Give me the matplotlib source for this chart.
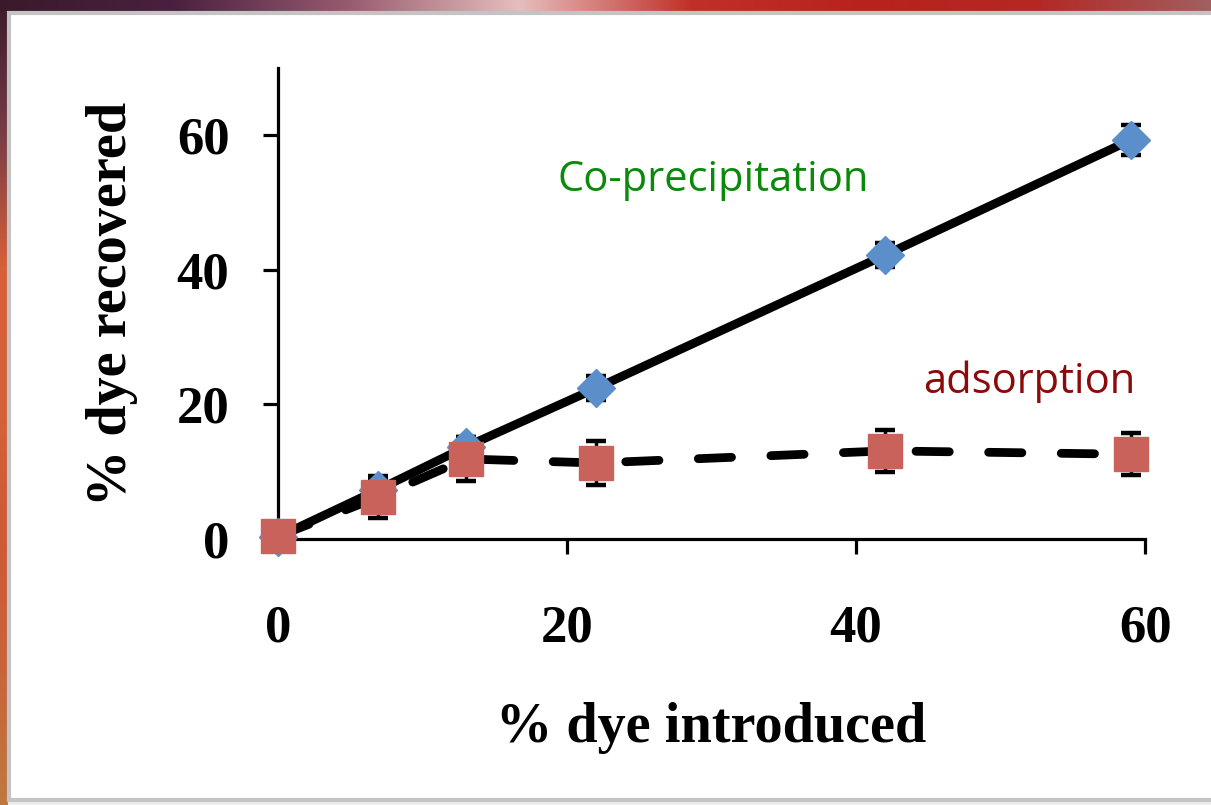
import numpy as np
import matplotlib
matplotlib.use("Agg")
import matplotlib.pyplot as plt
from matplotlib.patches import Rectangle

# data
dye_in = [0, 6.9, 13, 22, 42, 59]
coprecip = [0.3, 7.3, 13.7, 22.4, 42.2, 59.3]
coprecip_err = [1.0, 1.5, 1.5, 1.8, 1.8, 2.2]
adsorption = [0.4, 6.2, 11.9, 11.3, 13.1, 12.6]
adsorption_err = [1.0, 3.1, 3.3, 3.2, 3.1, 3.1]
ticks = [0, 20, 40, 60]

W, H = 1211, 805
fig = plt.figure(figsize=(W / 100, H / 100), dpi=100)

# slide background behind the white chart panel
bg = fig.add_axes([0, 0, 1, 1])
bg.set_axis_off()
top = np.array([[58, 26, 42], [74, 32, 64], [150, 90, 110], [230, 190, 190],
                [192, 48, 40], [184, 34, 30], [180, 40, 36], [160, 96, 96]]) / 255
left = np.array([[58, 26, 42], [120, 60, 70], [214, 96, 58], [212, 98, 58],
                 [205, 90, 55], [200, 100, 60], [190, 120, 64]]) / 255
img = np.ones((H, W, 3))
for i in range(3):
    img[:, :8, i] = np.interp(np.linspace(0, 1, H), np.linspace(0, 1, len(left)), left[:, i])[:, None]
    img[:12, :, i] = np.interp(np.linspace(0, 1, W), np.linspace(0, 1, len(top)), top[:, i])[None, :]
img[-5:, 8:] = 0.93
bg.imshow(img, extent=[0, W, 0, H], aspect="auto", interpolation="nearest")
bg.add_patch(Rectangle((8.5, 5), W + 10, H - 13.5 - 5,
                       facecolor="white", edgecolor="#c4c4c4", linewidth=3))
bg.set_xlim(0, W)
bg.set_ylim(0, H)

ax = fig.add_axes([0.2296, 0.3304, 0.716, 0.5851])
ax.set_facecolor("none")

line_kw = dict(ecolor="black", elinewidth=2.5, capsize=7.5, capthick=3.2, zorder=2)
ax.errorbar(dye_in, coprecip, yerr=coprecip_err, fmt="none", **line_kw)
ax.errorbar(dye_in, adsorption, yerr=adsorption_err, fmt="none", **line_kw)
ax.plot(dye_in, coprecip, color="black", lw=6.3, solid_capstyle="round", zorder=3)
ax.plot(dye_in, adsorption, color="black", lw=6.3, dashes=(3.8, 4.5),
        dash_capstyle="round", zorder=3)
ax.plot(dye_in, coprecip, ls="none", marker="D", ms=19.5, color="#5b8fcb",
        clip_on=False, zorder=4)
ax.plot(dye_in, adsorption, ls="none", marker="s", ms=24, color="#c9625a",
        clip_on=False, zorder=5)

ax.text(30.1, 53.3, "Co-precipitation", color="#0a8a0a", fontsize=30,
        family="Open Sans", ha="center", va="center")
ax.text(52.0, 23.4, "adsorption", color="#8b0a0a", fontsize=30,
        family="Open Sans", ha="center", va="center")

ax.set_xlim(0, 60)
ax.set_ylim(0, 70)
ax.set_xticks(ticks)
ax.set_yticks(ticks)
for s in ["top", "right"]:
    ax.spines[s].set_visible(False)
for s in ["left", "bottom"]:
    ax.spines[s].set_linewidth(2.3)
ax.tick_params(width=2.3, length=11, direction="out")
ax.tick_params(axis="x", pad=36)
ax.tick_params(axis="y", pad=24)
for lab in ax.get_xticklabels() + ax.get_yticklabels():
    lab.set_family("Liberation Serif")
    lab.set_weight("bold")
    lab.set_fontsize(38)

ax.set_xlabel("% dye introduced", family="Liberation Serif", weight="bold",
              fontsize=40.5, labelpad=36)
ax.set_ylabel("% dye recovered", family="Liberation Serif", weight="bold",
              fontsize=40.5, labelpad=28)

fig.savefig("out.png", dpi=100)
